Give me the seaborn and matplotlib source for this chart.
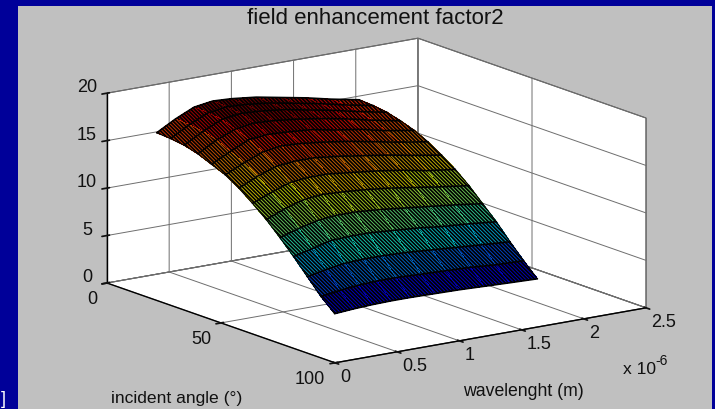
import numpy as np
import matplotlib
matplotlib.use("Agg")
import matplotlib.pyplot as plt
import seaborn as sns
from matplotlib.patches import Rectangle

# valori
wavelength = [0.4, 0.55, 0.7, 0.85, 1.0, 1.2, 1.4, 1.6, 1.8, 2.03]
angle = [0, 6, 12, 18, 24, 30, 36, 42, 48, 54, 60, 66, 72, 78]
enhancement = [
    [14.9, 16.0, 16.9, 17.2, 17.1, 16.8, 16.3, 15.8, 15.2, 14.6],
    [14.8, 15.9, 16.8, 17.1, 17.0, 16.7, 16.2, 15.7, 15.1, 14.5],
    [14.6, 15.7, 16.6, 16.9, 16.8, 16.5, 16.0, 15.5, 14.9, 14.3],
    [14.2, 15.3, 16.1, 16.4, 16.3, 16.0, 15.6, 15.1, 14.5, 13.9],
    [13.6, 14.6, 15.5, 15.7, 15.6, 15.4, 14.9, 14.5, 13.9, 13.4],
    [13.0, 13.9, 14.7, 15.0, 14.9, 14.6, 14.2, 13.7, 13.2, 12.7],
    [12.1, 13.0, 13.7, 13.9, 13.9, 13.6, 13.2, 12.8, 12.3, 11.8],
    [11.0, 11.8, 12.5, 12.7, 12.7, 12.4, 12.1, 11.7, 11.2, 10.8],
    [9.8, 10.6, 11.2, 11.4, 11.3, 11.1, 10.8, 10.4, 10.0, 9.6],
    [8.4, 9.0, 9.5, 9.7, 9.7, 9.5, 9.2, 8.9, 8.6, 8.2],
    [6.9, 7.4, 7.9, 8.0, 8.0, 7.8, 7.6, 7.3, 7.1, 6.8],
    [5.3, 5.7, 6.0, 6.1, 6.1, 6.0, 5.8, 5.6, 5.4, 5.2],
    [3.7, 4.0, 4.2, 4.3, 4.3, 4.2, 4.1, 4.0, 3.8, 3.7],
    [2.4, 2.55, 2.65, 2.7, 2.7, 2.65, 2.6, 2.5, 2.4, 2.3],
]
x_ticks = [0, 0.5, 1, 1.5, 2, 2.5]
y_ticks = [0, 50, 100]
z_ticks = [0, 5, 10, 15, 20]

sns.set_theme(style="white", rc={
    "grid.color": "#6e6e6e",
    "grid.linewidth": 0.7,
    "hatch.linewidth": 1.25,
    "text.color": "#111111",
})
plt.rcParams["font.family"] = ["Liberation Sans", "DejaVu Sans"]

W, H = 715, 409
fig = plt.figure(figsize=(W / 100, H / 100), dpi=100, facecolor="#000099")
fig.add_artist(Rectangle((18 / W, 0), (712 - 18) / W, (H - 6) / H, zorder=-1,
                         transform=fig.transFigure, facecolor="#c0c0c0", edgecolor="none"))

L = 376.8
ax = fig.add_axes([183 / W, 15 / H, L / W, L / H], projection="3d", proj_type="ortho")
ax.patch.set_alpha(0)
ax.view_init(elev=14.4, azim=-125.4)
ax.set_box_aspect((381.6, 393.7, 196), zoom=1.5)
ax.computed_zorder = False

X, Y = np.meshgrid(wavelength, angle)
Z = np.array(enhancement)
cmap = plt.get_cmap("jet")
colors = cmap((Z - Z.min()) / (Z.max() - Z.min()))
colors[..., :3] *= 0.8
surf = ax.plot_surface(X, Y, Z, facecolors=colors, rstride=1, cstride=1,
                       linewidth=0, antialiased=False, shade=False, zorder=2, clip_on=False)
surf.set_edgecolor("black")
surf.set_hatch("\\" * 9)

for row, a in zip(enhancement, angle):
    ax.plot(wavelength, [a] * len(wavelength), row, color="black", lw=1.2, zorder=3, clip_on=False)
ax.plot([wavelength[0]] * len(angle), angle, Z[:, 0], color="black", lw=0.8, zorder=3, clip_on=False)
ax.plot([wavelength[-1]] * len(angle), angle, Z[:, -1], color="black", lw=0.8, zorder=3, clip_on=False)

ax.set_xlim(0, 2.5)
ax.set_ylim(100, 0)
ax.set_zlim(0, 20)
ax.set_xticks(x_ticks)
ax.set_xticklabels(["0", "0.5", "1", "1.5", "2", "2.5"])
ax.set_yticks(y_ticks)
ax.set_zticks(z_ticks)
ax.tick_params(axis="x", labelsize=13, colors="#111111", pad=-5)
ax.tick_params(axis="y", labelsize=13, colors="#111111", pad=-3.5)
ax.tick_params(axis="z", labelsize=13, colors="#111111", pad=-2.8)
for t in ax.get_yticklabels():
    t.set_ha("right")
for t in ax.get_xticklabels():
    t.set_ha("left")
for t in ax.get_zticklabels():
    t.set_va("baseline")

for axis in (ax.xaxis, ax.yaxis, ax.zaxis):
    axis.set_pane_color("white")
    axis.pane.set_edgecolor("#555555")
    axis.pane.set_linewidth(0.8)
    axis.line.set_color("black")
    axis.line.set_linewidth(1.0)

fig.text(375.5 / W, 1 - 18 / H, "field enhancement factor2", fontsize=16, ha="center", va="center", color="#111111")
fig.text(176.5 / W, 1 - 399 / H, "incident angle (°)", fontsize=12.6, ha="center", va="center", color="#111111")
fig.text(523.5 / W, 1 - 391 / H, "wavelenght (m)", fontsize=12.7, ha="center", va="center", color="#111111")
fig.text(623 / W, 1 - 370 / H, "x 10", fontsize=12.6, ha="left", va="center", color="#111111")
fig.text(655 / W, 1 - 361 / H, "-6", fontsize=10, ha="left", va="center", color="#111111")
fig.text(1 / W, 1 - 399 / H, "]", fontsize=13, color="white", ha="left", va="center")

fig.savefig("out.png", dpi=100, facecolor=fig.get_facecolor())
